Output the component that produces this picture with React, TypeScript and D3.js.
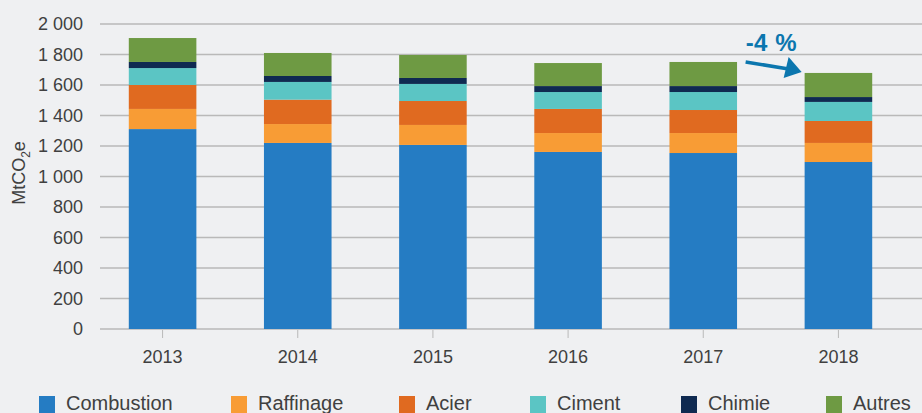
import * as d3 from "d3";

const years = ["2013", "2014", "2015", "2016", "2017", "2018"];
const seriesNames = ["Combustion", "Raffinage", "Acier", "Ciment", "Chimie", "Autres"];
const seriesColors = ["#257cc3", "#f89c35", "#e06a20", "#5bc5c4", "#0f2a51", "#6e9a43"];

const combustion = [1311, 1220, 1207, 1161, 1154, 1095];
const raffinage = [132, 124, 131, 124, 131, 125];
const acier = [157, 160, 157, 158, 151, 144];
const ciment = [111, 116, 112, 111, 118, 125];
const chimie = [40, 39, 39, 39, 39, 32];
const autres = [157, 151, 151, 151, 158, 158];

const yTicks = [0, 200, 400, 600, 800, 1000, 1200, 1400, 1600, 1800, 2000];
const legendX = [39, 231, 399, 530, 681, 826];

const W = 922;
const H = 413;
const font = "'Liberation Sans', Arial, sans-serif";
const textColor = "#404040";

const fmt = (v: number) => (v >= 1000 ? `${Math.floor(v / 1000)} ${String(v % 1000).padStart(3, "0")}` : String(v));

export default function App() {
  const rows = years.map((y, i) => ({
    year: y,
    Combustion: combustion[i],
    Raffinage: raffinage[i],
    Acier: acier[i],
    Ciment: ciment[i],
    Chimie: chimie[i],
    Autres: autres[i],
  }));

  const x = d3.scaleBand().domain(years).range([95, 906]).paddingInner(0.5).paddingOuter(0.25);
  const y = d3.scaleLinear().domain([0, 2000]).range([329, 24]);
  const color = d3.scaleOrdinal<string, string>().domain(seriesNames).range(seriesColors);
  const stacked = d3.stack<any>().keys(seriesNames)(rows);

  const lastX = x("2018")!;
  const lastTop = y(d3.sum(seriesNames, (k) => (rows[5] as any)[k]));

  return (
    <svg
      width={W}
      height={H}
      style={{ position: "absolute", left: 0, top: 0, background: "#eff0f2", fontFamily: font }}
    >
      <rect width={W} height={H} fill="#eff0f2" />
      {yTicks.map((t) => (
        <g key={t}>
          <line x1={100} x2={W} y1={y(t)} y2={y(t)} stroke="#b9b9b9" strokeWidth={1.6} />
          <text x={83} y={y(t)} dy="0.35em" textAnchor="end" fontSize={18} fill={textColor}>
            {fmt(t)}
          </text>
        </g>
      ))}
      <text transform={`translate(25,173) rotate(-90)`} textAnchor="middle" fontSize={18} fill={textColor}>
        MtCO<tspan fontSize={12} dy={5}>2</tspan>
        <tspan dy={-5}>e</tspan>
      </text>
      {stacked.map((layer) => (
        <g key={layer.key} fill={color(layer.key)}>
          {layer.map((d: any) => (
            <rect
              key={d.data.year}
              x={x(d.data.year)}
              y={y(d[1])}
              width={x.bandwidth()}
              height={y(d[0]) - y(d[1])}
            />
          ))}
        </g>
      ))}
      {years.map((yr) => {
        const cx = x(yr)! + x.bandwidth() / 2;
        return (
          <g key={yr}>
            <line x1={cx} x2={cx} y1={330} y2={338} stroke="#b9b9b9" strokeWidth={1} />
            <text x={cx} y={363} textAnchor="middle" fontSize={18} fill={textColor}>
              {yr}
            </text>
          </g>
        );
      })}
      {/* annotation -4 % */}
      <text x={lastX - 59} y={51} fontSize={24} fontWeight="bold" letterSpacing={0.5} fill="#0b76ae">
        -4 %
      </text>
      <line x1={lastX - 59} y1={lastTop - 11} x2={lastX - 16} y2={lastTop - 4} stroke="#0b76ae" strokeWidth={3.5} />
      <path
        d={`M${lastX - 3},${lastTop - 1} L${lastX - 16},${lastTop - 16} L${lastX - 21},${lastTop + 5} Z`}
        fill="#0b76ae"
      />
      {seriesNames.map((s, i) => (
        <g key={s} transform={`translate(${legendX[i]},396)`}>
          <rect width={16} height={17} fill={seriesColors[i]} />
          <text x={27} y={14} fontSize={20} fill={textColor}>
            {s}
          </text>
        </g>
      ))}
    </svg>
  );
}
